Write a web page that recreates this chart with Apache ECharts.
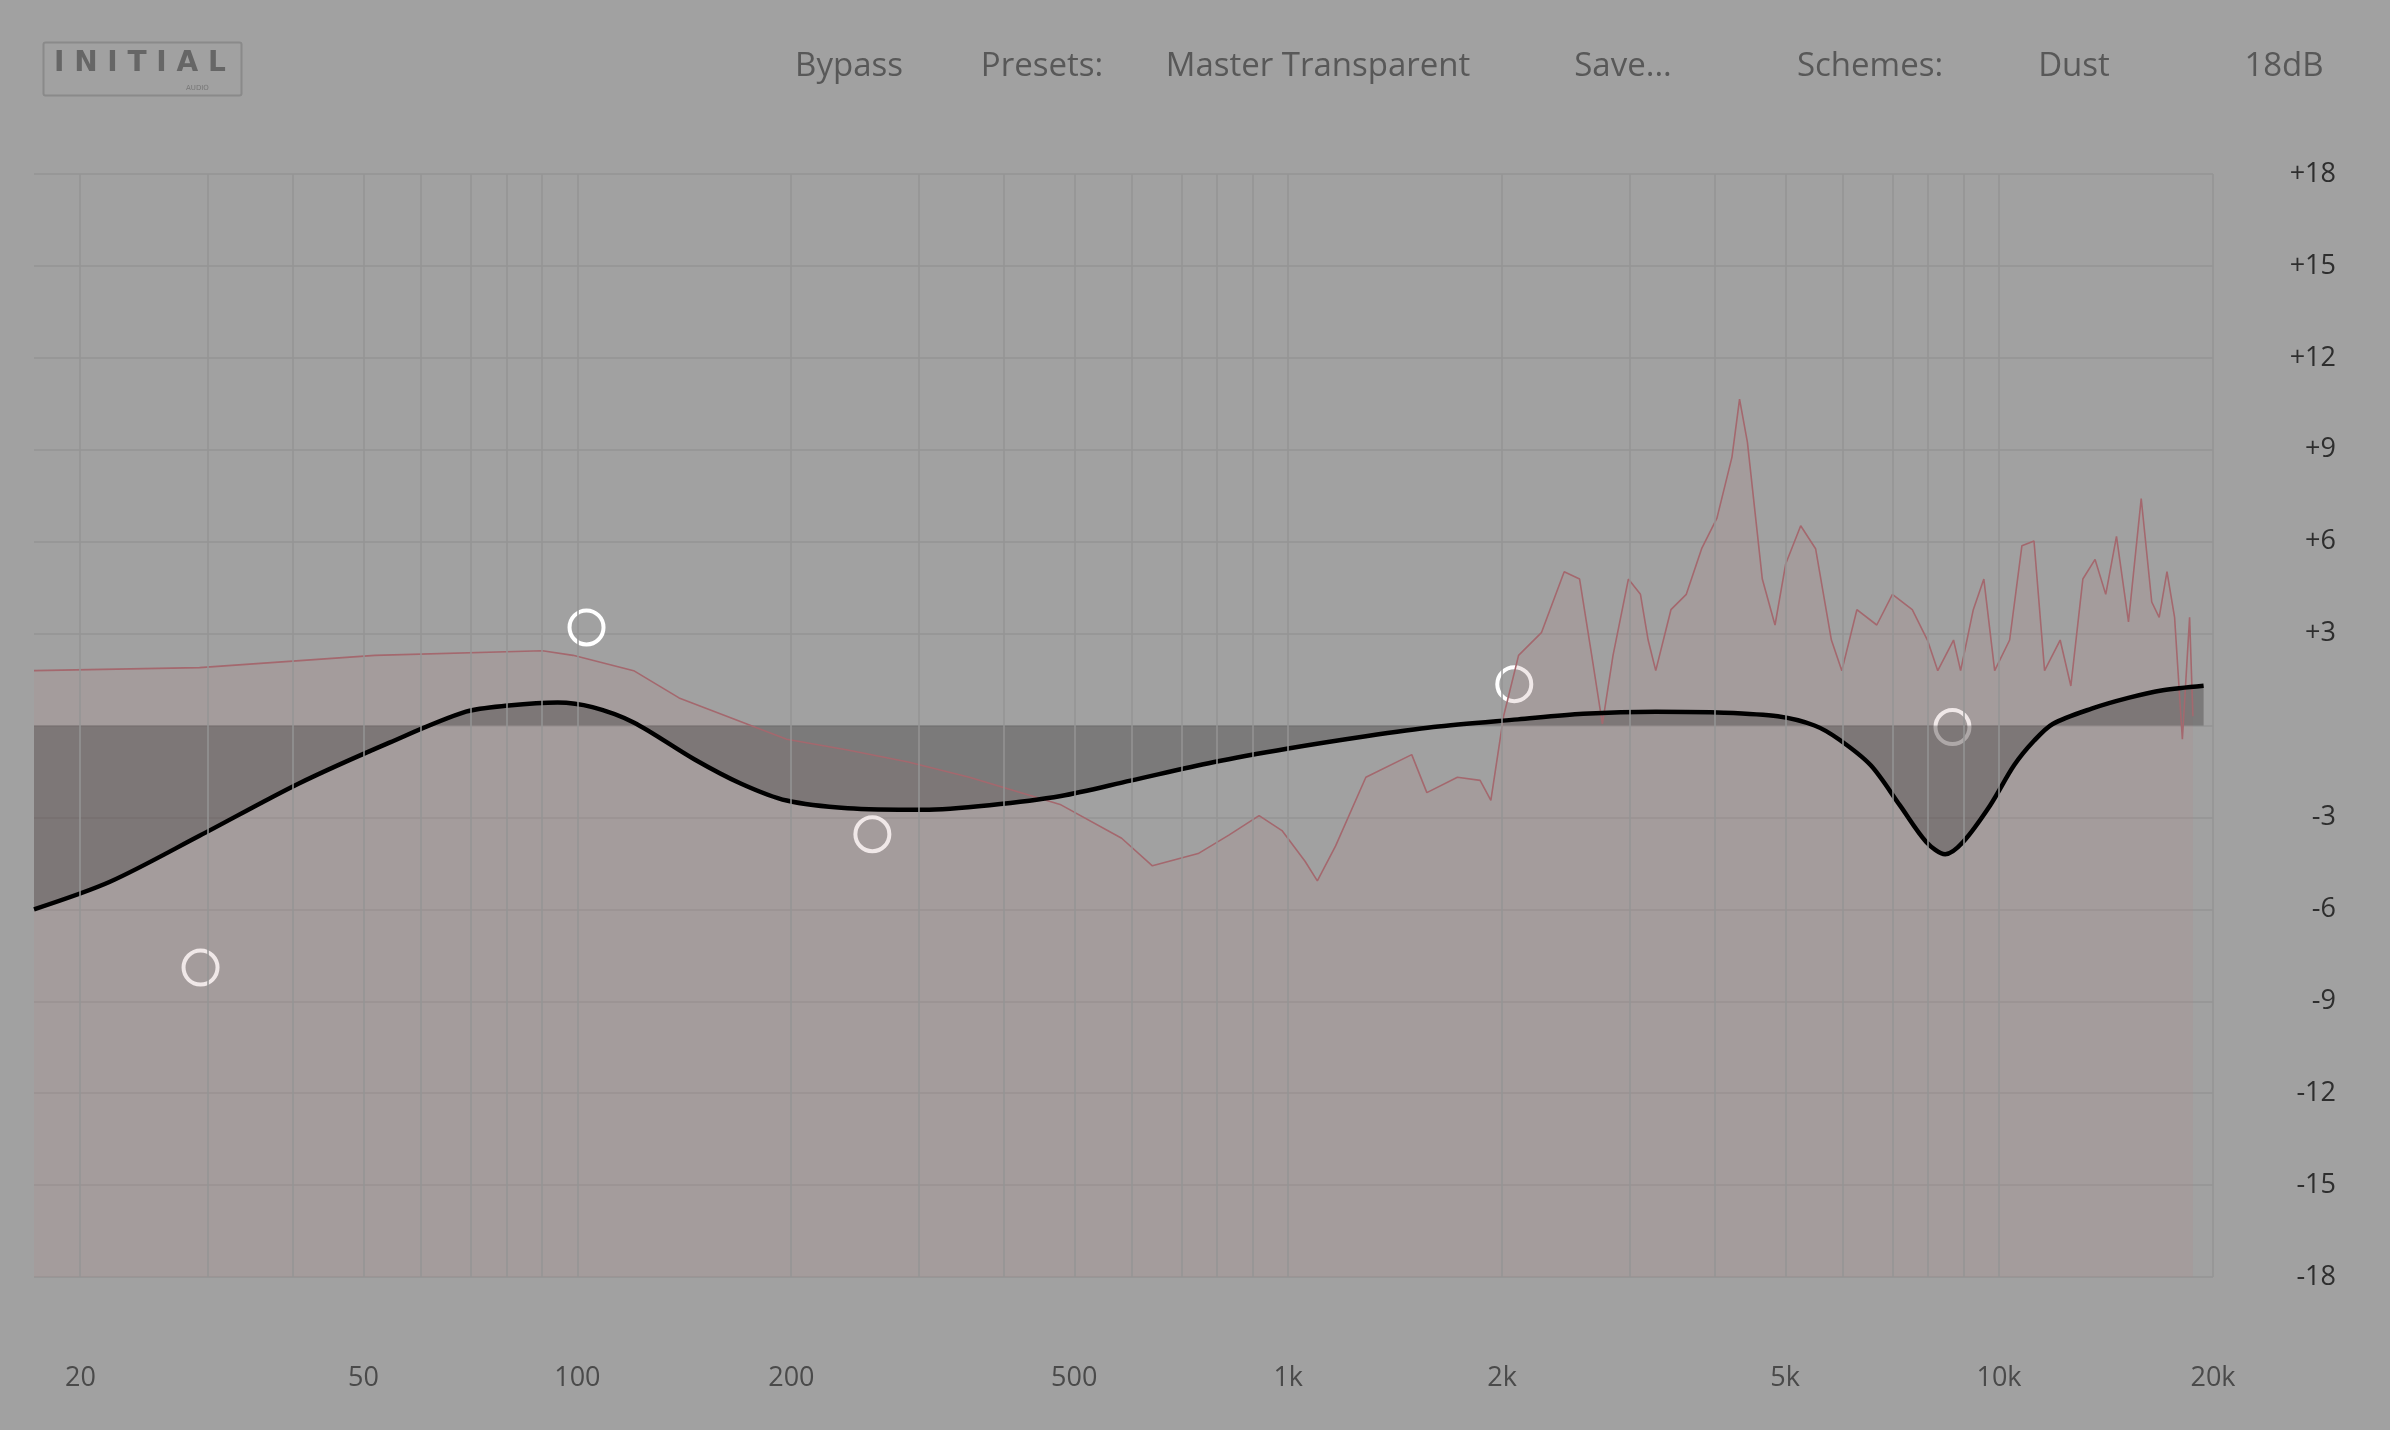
<!DOCTYPE html>
<html>
<head>
<meta charset="utf-8">
<script src="https://cdn.jsdelivr.net/npm/echarts@6/dist/echarts.min.js"></script>
<style>
  html, body { margin: 0; padding: 0; background: #a1a1a1; }
  #chart { width: 2390px; height: 1430px; }
</style>
</head>
<body>
<div id="chart"></div>
<script>
// frequency labels and grid lines (Hz)
var freqLabels = [20, 50, 100, 200, 500, 1000, 2000, 5000, 10000, 20000];
var gridFreqs = [20, 30, 40, 50, 60, 70, 80, 90, 100, 200, 300, 400, 500, 600, 700, 800, 900,
  1000, 2000, 3000, 4000, 5000, 6000, 7000, 8000, 9000, 10000, 20000];

// spectrum analyser trace
var specFreq = [17.2, 29.4, 51.9, 89.3, 98.6, 120, 139, 197, 240, 292, 356, 479, 583, 644, 747, 825, 910,
  980, 1056, 1099, 1166, 1286, 1492, 1567, 1730, 1862, 1928, 2009, 2109, 2271, 2445, 2570, 2673, 2767,
  2864, 3010, 3130, 3209, 3289, 3455, 3631, 3816, 4010, 4210, 4315, 4426, 4645, 4840, 5010, 5260, 5520,
  5810, 6010, 6310, 6730, 7080, 7550, 7930, 8200, 8630, 8830, 9200, 9520, 9860, 10350, 10770, 11200,
  11590, 12190, 12620, 13120, 13650, 14130, 14630, 15210, 15850, 16400, 16800, 17230, 17660, 18110,
  18540, 18740];
var specDb = [1.79, 1.89, 2.29, 2.44, 2.29, 1.79, 0.90, -0.45, -0.80, -1.19, -1.69, -2.59, -3.68, -4.58,
  -4.18, -3.58, -2.94, -3.43, -4.43, -5.07, -3.93, -1.69, -0.95, -2.19, -1.69, -1.79, -2.44, 0.30, 2.29,
  3.03, 5.02, 4.78, 2.29, 0.05, 2.29, 4.78, 4.28, 2.79, 1.79, 3.78, 4.28, 5.77, 6.77, 8.76, 10.65, 9.25,
  4.78, 3.28, 5.27, 6.52, 5.77, 2.79, 1.79, 3.78, 3.28, 4.28, 3.78, 2.79, 1.79, 2.79, 1.79, 3.78, 4.78,
  1.79, 2.79, 5.87, 6.02, 1.79, 2.79, 1.29, 4.78, 5.42, 4.28, 6.17, 3.38, 7.41, 4.03, 3.53, 5.02, 3.53,
  -0.45, 3.53, 0.30];

// EQ response curve
var eqFreq = [17.2, 22, 29.4, 40.5, 54.5, 69.7, 80, 93.8, 105, 120, 146, 170, 197, 240, 307, 380, 479,
  600, 784, 1000, 1286, 1600, 2105, 2600, 3290, 4100, 4884, 5500, 5950, 6600, 7250, 7900, 8400, 8900,
  9720, 10500, 11200, 11900, 13500, 15200, 17000, 19400];
var eqDb = [-6.0, -5.1, -3.6, -1.9, -0.55, 0.45, 0.65, 0.75, 0.6, 0.1, -1.1, -1.9, -2.45, -2.7, -2.75,
  -2.6, -2.3, -1.8, -1.2, -0.75, -0.35, -0.05, 0.2, 0.38, 0.45, 0.42, 0.3, 0.0, -0.45, -1.3, -2.6, -3.8,
  -4.2, -3.8, -2.6, -1.3, -0.5, 0.05, 0.55, 0.9, 1.15, 1.3];

// band nodes
var nodeFreq = [29.5, 103, 260, 2080, 8600];
var nodeDb = [-7.9, 3.2, -3.55, 1.35, -0.05];

var headerItems = ['Bypass', 'Presets:', 'Master Transparent', 'Save...', 'Schemes:', 'Dust', '18dB'];
var headerX = [849, 1042, 1318, 1623, 1870, 2074, 2284];

function pairs(f, v) {
  return f.map(function (x, i) { return [Math.log10(x), v[i]]; });
}
function fmtFreq(v) {
  var f = Math.round(Math.pow(10, v));
  return f >= 1000 ? (f / 1000) + 'k' : String(f);
}

var myChart = echarts.init(document.getElementById('chart'));
var option = {
  backgroundColor: '#a1a1a1',
  animation: false,
  grid: { left: 34, right: 177, top: 174, bottom: 153 },
  graphic: [
    { type: 'rect', left: 41, top: 40, shape: { width: 198, height: 53, r: 2 },
      style: { fill: 'none', stroke: '#8a8a8a', lineWidth: 2 } },
    { type: 'text', left: 54, top: 50, style: { text: 'I N I T I A L', font: '600 28px "DejaVu Sans"', fill: '#666' } },
    { type: 'text', left: 186, top: 85, style: { text: 'AUDIO', font: '7px "DejaVu Sans"', fill: '#777' } }
  ].concat(headerItems.map(function (t, i) {
    return { type: 'text', x: headerX[i], y: 67,
      style: { text: t, font: '33px "Open Sans"', fill: '#585858', align: 'center', verticalAlign: 'middle' } };
  })),
  xAxis: {
    type: 'value',
    min: Math.log10(17.2),
    max: Math.log10(20000),
    axisLine: { show: false },
    axisTick: { show: false },
    splitLine: { show: false },
    axisLabel: {
      customValues: freqLabels.map(function (f) { return Math.log10(f); }),
      formatter: fmtFreq,
      margin: 88,
      color: '#4a4a4a',
      fontSize: 27,
      fontFamily: 'Open Sans'
    }
  },
  yAxis: {
    type: 'value',
    position: 'right',
    min: -18, max: 18, interval: 3,
    axisLine: { show: false },
    axisTick: { show: false },
    splitLine: { lineStyle: { color: '#959595', width: 1.5 } },
    axisLabel: {
      margin: 123,
      align: 'right',
      color: '#2e2e2e',
      fontSize: 27,
      fontFamily: 'Open Sans',
      formatter: function (v) { return v === 0 ? '' : (v > 0 ? '+' + v : String(v)); }
    }
  },
  series: [
    {
      type: 'line', data: [], silent: true,
      markLine: {
        silent: true, symbol: 'none', label: { show: false },
        lineStyle: { color: '#959595', width: 1.5, type: 'solid' },
        data: gridFreqs.map(function (f) { return { xAxis: Math.log10(f) }; })
      }
    },
    {
      name: 'spectrum', type: 'line', data: pairs(specFreq, specDb),
      symbol: 'none', lineStyle: { color: '#a4686e', width: 1.6 },
      areaStyle: { origin: 'start', color: 'rgba(176,140,140,0.28)' }
    },
    {
      name: 'eq', type: 'line', data: pairs(eqFreq, eqDb), smooth: 0.3,
      symbol: 'none', lineStyle: { color: '#000', width: 4.5 },
      areaStyle: { origin: 'auto', color: 'rgba(55,50,50,0.5)' }
    },
    {
      name: 'nodes', type: 'scatter', data: pairs(nodeFreq, nodeDb),
      symbol: 'circle', symbolSize: 34,
      itemStyle: { color: 'rgba(0,0,0,0)', borderColor: '#ffffff', borderWidth: 4, opacity: 1 }
    }
  ]
};
myChart.setOption(option);
window.addEventListener('resize', function () { myChart.resize(); });
</script>
</body>
</html>
